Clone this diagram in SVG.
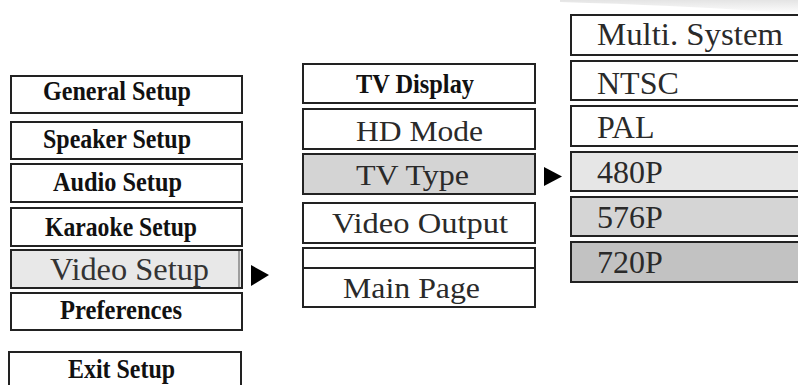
<svg xmlns="http://www.w3.org/2000/svg" width="798" height="385" viewBox="0 0 798 385">
<style>
.box{stroke:#222;stroke-width:2;fill:#fff}
.b{font-family:"Liberation Serif","Times New Roman",serif;font-weight:bold;font-size:27px;fill:#111}
.m{font-family:"Liberation Serif","Times New Roman",serif;font-size:30px;fill:#2a2a2a}
.r{font-family:"Liberation Serif","Times New Roman",serif;font-size:32px;fill:#2a2a2a}
.arr{fill:#000}
</style>
<defs>
<linearGradient id="top" x1="0" y1="0" x2="0" y2="1">
<stop offset="0" stop-color="#e4e4e4"/>
<stop offset="1" stop-color="#ffffff"/>
</linearGradient>
</defs>
<rect width="798" height="385" fill="#fff"/>
<path d="M560 0 H798 V14 Q700 6 560 2 Z" fill="url(#top)"/>

<g id="general-setup"><rect class="box" x="11" y="76" width="231" height="37"/><text class="b" x="43" y="100" textLength="148" lengthAdjust="spacingAndGlyphs">General Setup</text></g>
<g id="speaker-setup"><rect class="box" x="11" y="122" width="231" height="37"/><text class="b" x="43" y="148" textLength="148" lengthAdjust="spacingAndGlyphs">Speaker Setup</text></g>
<g id="audio-setup"><rect class="box" x="11" y="164" width="231" height="38"/><text class="b" x="53" y="191" textLength="129" lengthAdjust="spacingAndGlyphs">Audio Setup</text></g>
<g id="karaoke-setup"><rect class="box" x="11" y="208" width="231" height="38"/><text class="b" x="45" y="236" textLength="152" lengthAdjust="spacingAndGlyphs">Karaoke Setup</text></g>
<g id="video-setup"><rect class="box" x="11" y="250" width="231" height="38" style="fill:#e8e8e8"/><line x1="239" y1="251" x2="239" y2="287" stroke="#555" stroke-width="1"/><text class="r" x="50" y="280" textLength="159" lengthAdjust="spacingAndGlyphs" style="fill:#333">Video Setup</text></g>
<g id="preferences"><rect class="box" x="11" y="293" width="231" height="37"/><text class="b" x="60" y="319" textLength="122" lengthAdjust="spacingAndGlyphs">Preferences</text></g>
<g id="exit-setup"><rect class="box" x="9" y="352" width="232" height="50"/><text class="b" x="68" y="378" textLength="107" lengthAdjust="spacingAndGlyphs">Exit Setup</text></g>

<g id="tv-display"><rect class="box" x="303" y="64" width="232" height="39"/><text class="b" x="356" y="93" textLength="118" lengthAdjust="spacingAndGlyphs">TV Display</text></g>
<g id="hd-mode"><rect class="box" x="303" y="109" width="232" height="40"/><text class="m" x="356" y="141" textLength="127" lengthAdjust="spacingAndGlyphs">HD Mode</text></g>
<g id="tv-type"><rect class="box" x="303" y="154" width="232" height="40" style="fill:#d4d4d4"/><text class="m" x="356" y="185" textLength="113" lengthAdjust="spacingAndGlyphs">TV Type</text></g>
<g id="video-output"><rect class="box" x="303" y="203" width="232" height="40"/><text class="m" x="332" y="233" textLength="176" lengthAdjust="spacingAndGlyphs">Video Output</text></g>
<g id="main-page"><rect class="box" x="303" y="248" width="232" height="59"/><line x1="303" y1="268" x2="535" y2="268" stroke="#222" stroke-width="2"/><text class="m" x="343" y="298" textLength="137" lengthAdjust="spacingAndGlyphs">Main Page</text></g>

<g id="multi-system"><rect class="box" x="571" y="15" width="240" height="40"/><text class="r" x="597" y="45" textLength="186" lengthAdjust="spacingAndGlyphs">Multi. System</text></g>
<g id="ntsc"><rect class="box" x="571" y="61" width="240" height="39"/><text class="r" x="597" y="94">NTSC</text></g>
<g id="pal"><rect class="box" x="571" y="106" width="240" height="40"/><text class="r" x="597" y="138">PAL</text></g>
<g id="p480"><rect class="box" x="571" y="152" width="240" height="39" style="fill:#e6e6e6"/><text class="r" x="597" y="183">480P</text></g>
<g id="p576"><rect class="box" x="571" y="197" width="240" height="39" style="fill:#d5d5d5"/><text class="r" x="597" y="228">576P</text></g>
<g id="p720"><rect class="box" x="571" y="242" width="240" height="40" style="fill:#c2c2c2"/><text class="r" x="597" y="273">720P</text></g>

<g id="connectors">
<polygon class="arr" points="251,265 269,275 251,286"/>
<polygon class="arr" points="544,167 562,176.5 544,186"/>
</g>
</svg>
